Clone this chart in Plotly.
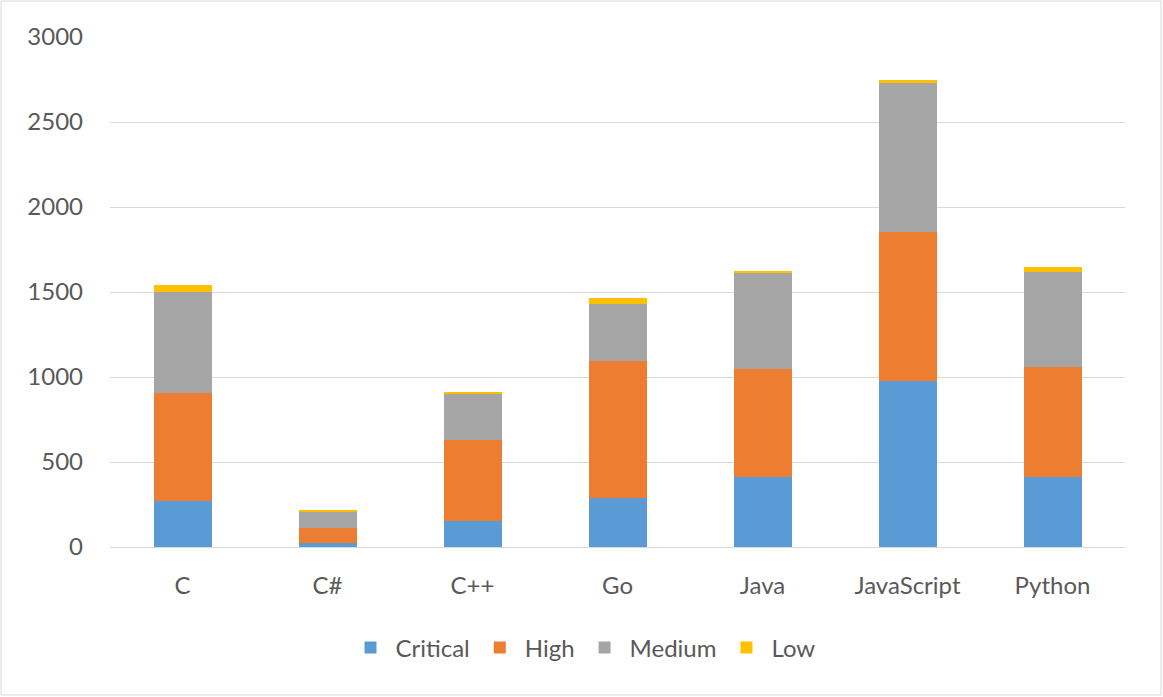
import plotly.graph_objects as go

languages = ["C", "C#", "C++", "Go", "Java", "JavaScript", "Python"]
critical = [271, 25, 153, 288, 414, 978, 410]
high = [637, 89, 476, 804, 633, 873, 651]
medium = [590, 96, 273, 339, 567, 880, 557]
low = [41, 6, 10, 34, 10, 14, 27]

series_names = ["Critical", "High", "Medium", "Low"]
series_values = [critical, high, medium, low]
colors = ["#5B9BD5", "#ED7D31", "#A5A5A5", "#FFC000"]

FONT = "Lato"
FS = 24
fig = go.Figure()
for name, vals, col in zip(series_names, series_values, colors):
    fig.add_trace(go.Bar(x=languages, y=vals, name=name, marker_color=col,
                         marker_line_width=0, width=0.4))

fig.update_layout(
    barmode="stack",
    width=1163, height=697,
    margin=dict(l=110, r=38, t=37, b=150),
    paper_bgcolor="white", plot_bgcolor="white",
    font=dict(family=FONT, size=FS, color="#595959"),
    showlegend=True,
    legend=dict(orientation="h", x=0.466, xanchor="center", y=-0.198, yanchor="middle",
                font=dict(size=FS, color="#595959"), traceorder="normal", itemwidth=40),
    xaxis=dict(showgrid=False, showline=True, linecolor="#D9D9D9", linewidth=1,
               ticks="", ticklabelstandoff=17, tickfont=dict(size=FS, color="#595959")),
    yaxis=dict(range=[0, 3000], dtick=500, showgrid=True, gridcolor="#D9D9D9",
               gridwidth=1, zeroline=False, ticks="", ticklabelstandoff=26,
               tickfont=dict(size=FS, color="#595959")),
)
fig.add_shape(type="rect", xref="paper", yref="paper",
              x0=(1 - 110) / 1015, x1=(1161 - 110) / 1015,
              y0=(547 - 695) / 510, y1=(547 - 1) / 510,
              line=dict(color="#D9D9D9", width=1), fillcolor="rgba(0,0,0,0)", layer="below")
fig.write_html("out.html", config={"displayModeBar": False},
               post_script="document.body.style.margin='0px';document.body.style.overflow='hidden';")
